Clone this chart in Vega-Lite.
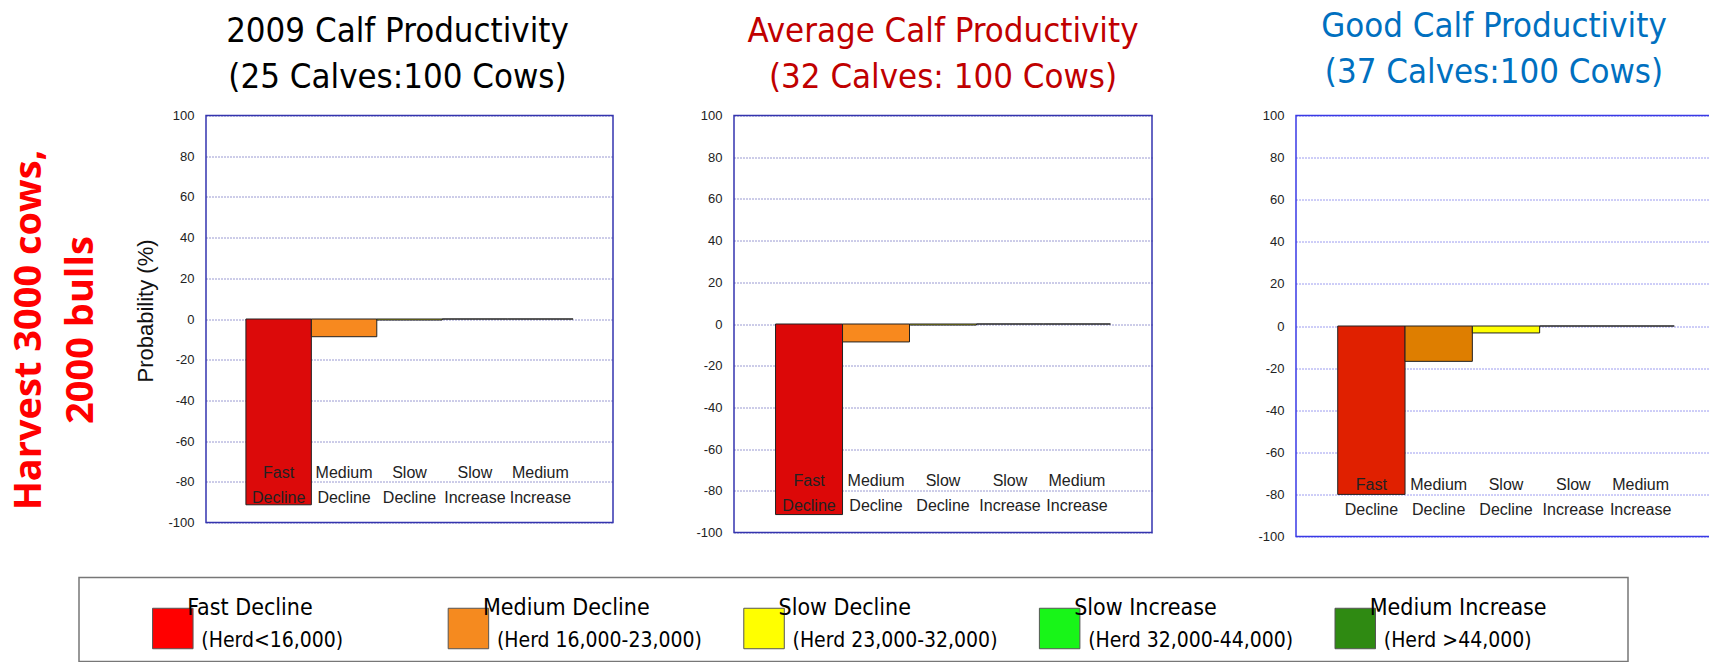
{
  "$schema": "https://vega.github.io/schema/vega-lite/v6.json",
  "background": "white",
  "padding": {"left": 11, "top": 7.5, "right": 0, "bottom": 0},
  "config": {"view": {"stroke": null}, "font": "Liberation Sans"},
  "datasets": {
    "bars": [
      {"panel": "2009", "category": "Fast Decline", "value": -91.3},
      {"panel": "2009", "category": "Medium Decline", "value": -8.7},
      {"panel": "2009", "category": "Slow Decline", "value": -0.5},
      {"panel": "2009", "category": "Slow Increase", "value": 0},
      {"panel": "2009", "category": "Medium Increase", "value": 0},
      {"panel": "Average", "category": "Fast Decline", "value": -91.4},
      {"panel": "Average", "category": "Medium Decline", "value": -8.6},
      {"panel": "Average", "category": "Slow Decline", "value": -0.5},
      {"panel": "Average", "category": "Slow Increase", "value": 0},
      {"panel": "Average", "category": "Medium Increase", "value": 0},
      {"panel": "Good", "category": "Fast Decline", "value": -80},
      {"panel": "Good", "category": "Medium Decline", "value": -16.8},
      {"panel": "Good", "category": "Slow Decline", "value": -3.3},
      {"panel": "Good", "category": "Slow Increase", "value": 0},
      {"panel": "Good", "category": "Medium Increase", "value": 0}
    ],
    "legend": [
      {"category": "Fast Decline", "herd": "(Herd<16,000)"},
      {"category": "Medium Decline", "herd": "(Herd 16,000-23,000)"},
      {"category": "Slow Decline", "herd": "(Herd 23,000-32,000)"},
      {"category": "Slow Increase", "herd": "(Herd 32,000-44,000)"},
      {"category": "Medium Increase", "herd": "(Herd >44,000)"}
    ]
  },
  "title": {
    "text": ["Harvest 3000 cows,", "2000 bulls"],
    "orient": "left",
    "anchor": "middle",
    "font": "Open Sans",
    "fontSize": 38,
    "fontWeight": "bold",
    "color": "#ff0000",
    "lineHeight": 52,
    "offset": -23,
    "dx": 5
  },
  "spacing": 32,
  "resolve": {"scale": {"color": "independent"}},
  "vconcat": [
    {
      "spacing": 30,
      "resolve": {"scale": {"color": "independent"}},
      "hconcat": [
        {
          "width": 16,
          "height": 10,
          "data": {"values": [{"blank": ""}]},
          "mark": {"type": "text"},
          "encoding": {"text": {"field": "blank"}}
        },
        {
          "width": 407,
          "height": 407,
          "title": {"text": ["2009 Calf Productivity", "(25 Calves:100 Cows)"], "color": "#000000", "font": "DejaVu Sans Condensed, Liberation Sans, sans-serif", "fontSize": 34.5, "fontWeight": "normal", "lineHeight": 46, "offset": 14, "frame": "group", "anchor": "middle", "dx": -12},
          "view": {"stroke": "#3535b0", "strokeWidth": 1.5},
          "data": {"name": "bars"},
          "transform": [{"filter": "datum.panel == '2009'"}],
          "encoding": {
            "x": {"field": "category", "type": "nominal", "sort": null, "scale": {"paddingInner": 0, "paddingOuter": 0.61}, "axis": null}
          },
          "layer": [
            {
              "mark": {"type": "bar", "stroke": "#222222", "strokeWidth": 1, "opacity": 1},
              "encoding": {
                "y": {"field": "value", "type": "quantitative", "scale": {"domain": [-100, 100]},
                  "axis": {"values": [-100, -80, -60, -40, -20, 0, 20, 40, 60, 80, 100], "labelExpr": "'' + datum.value", "grid": true, "gridColor": "#3434a4", "gridDash": [1, 2], "gridWidth": 1, "gridOpacity": 1, "ticks": false, "domain": false, "labelPadding": 12, "labelFontSize": 13, "labelColor": "#222222", "title": "Probability (%)", "titleFontSize": 22, "titleFontWeight": "normal", "titleColor": "#111111", "titleX": -61, "titleY": 195, "titleAngle": 270, "titleAlign": "center", "titleBaseline": "middle", "minExtent": 80}},
                "color": {"field": "category", "type": "nominal", "scale": {"domain": ["Fast Decline", "Medium Decline", "Slow Decline", "Slow Increase", "Medium Increase"], "range": ["#dc0a0a", "#f7891f", "#ffff00", "#22ee22", "#2e8b14"]}, "legend": null}
              }
            },
            {"mark": {"type": "rule", "color": "#444444", "strokeWidth": 1.5}, "encoding": {"y": {"datum": 0}}},
            {
              "mark": {"type": "text", "lineBreak": " ", "fontSize": 16, "color": "#222222", "lineHeight": 25, "baseline": "middle"},
              "encoding": {"y": {"datum": -75.5}, "text": {"field": "category"}}
            }
          ]
        },
        {
          "width": 418,
          "height": 417,
          "title": {"text": ["Average Calf Productivity", "(32 Calves: 100 Cows)"], "color": "#c00000", "font": "DejaVu Sans Condensed, Liberation Sans, sans-serif", "fontSize": 34.5, "fontWeight": "normal", "lineHeight": 46, "offset": 14, "frame": "group", "anchor": "middle"},
          "view": {"stroke": "#3535b0", "strokeWidth": 1.5},
          "data": {"name": "bars"},
          "transform": [{"filter": "datum.panel == 'Average'"}],
          "encoding": {
            "x": {"field": "category", "type": "nominal", "sort": null, "scale": {"paddingInner": 0, "paddingOuter": 0.62}, "axis": null}
          },
          "layer": [
            {
              "mark": {"type": "bar", "stroke": "#222222", "strokeWidth": 1, "opacity": 1},
              "encoding": {
                "y": {"field": "value", "type": "quantitative", "scale": {"domain": [-100, 100]},
                  "axis": {"values": [-100, -80, -60, -40, -20, 0, 20, 40, 60, 80, 100], "labelExpr": "'' + datum.value", "grid": true, "gridColor": "#3434a4", "gridDash": [1, 2], "gridWidth": 1, "gridOpacity": 1, "ticks": false, "domain": false, "labelPadding": 12, "labelFontSize": 13, "labelColor": "#222222", "title": null, "minExtent": 89}},
                "color": {"field": "category", "type": "nominal", "scale": {"domain": ["Fast Decline", "Medium Decline", "Slow Decline", "Slow Increase", "Medium Increase"], "range": ["#dc0808", "#f8891e", "#ffff00", "#22ee22", "#2e8b14"]}, "legend": null}
              }
            },
            {"mark": {"type": "rule", "color": "#444444", "strokeWidth": 1.5}, "encoding": {"y": {"datum": 0}}},
            {
              "mark": {"type": "text", "lineBreak": " ", "fontSize": 16, "color": "#222222", "lineHeight": 25, "baseline": "middle"},
              "encoding": {"y": {"datum": -75.5}, "text": {"field": "category"}}
            }
          ]
        },
        {
          "width": 420,
          "height": 421,
          "title": {"text": ["Good Calf Productivity", "(37 Calves:100 Cows)"], "color": "#0070c0", "font": "DejaVu Sans Condensed, Liberation Sans, sans-serif", "fontSize": 34.5, "fontWeight": "normal", "lineHeight": 46, "offset": 19.5, "frame": "group", "anchor": "middle", "dx": -12},
          "view": {"stroke": "#3a3ae6", "strokeWidth": 1.5},
          "data": {"name": "bars"},
          "transform": [{"filter": "datum.panel == 'Good'"}],
          "encoding": {
            "x": {"field": "category", "type": "nominal", "sort": null, "scale": {"paddingInner": 0, "paddingOuter": 0.62}, "axis": null}
          },
          "layer": [
            {
              "mark": {"type": "bar", "stroke": "#222222", "strokeWidth": 1, "opacity": 1},
              "encoding": {
                "y": {"field": "value", "type": "quantitative", "scale": {"domain": [-100, 100]},
                  "axis": {"values": [-100, -80, -60, -40, -20, 0, 20, 40, 60, 80, 100], "labelExpr": "'' + datum.value", "grid": true, "gridColor": "#3a3ae0", "gridDash": [1, 2], "gridWidth": 1, "gridOpacity": 1, "ticks": false, "domain": false, "labelPadding": 12, "labelFontSize": 13, "labelColor": "#222222", "title": null, "minExtent": 112}},
                "color": {"field": "category", "type": "nominal", "scale": {"domain": ["Fast Decline", "Medium Decline", "Slow Decline", "Slow Increase", "Medium Increase"], "range": ["#e02000", "#de7e00", "#ffff00", "#22ee22", "#2e8b14"]}, "legend": null}
              }
            },
            {"mark": {"type": "rule", "color": "#222222", "strokeWidth": 1.5}, "encoding": {"y": {"datum": 0}}},
            {
              "mark": {"type": "text", "lineBreak": " ", "fontSize": 16, "color": "#222222", "lineHeight": 25, "baseline": "middle"},
              "encoding": {"y": {"datum": -75.5}, "text": {"field": "category"}}
            }
          ]
        }
      ]
    },
    {
      "width": 1549,
      "height": 84,
      "view": {"stroke": "#777777", "strokeWidth": 1.5},
      "data": {"name": "legend"},
      "encoding": {
        "x": {"field": "category", "type": "nominal", "sort": null, "scale": {"type": "point", "padding": 0.62, "align": 0.2}, "axis": null}
      },
      "layer": [
        {
          "mark": {"type": "point", "shape": "square", "filled": true, "size": 1640, "stroke": "#555555", "strokeWidth": 1, "xOffset": 20.5, "yOffset": 9, "opacity": 1},
          "encoding": {"color": {"field": "category", "type": "nominal", "scale": {"domain": ["Fast Decline", "Medium Decline", "Slow Decline", "Slow Increase", "Medium Increase"], "range": ["#ff0000", "#f58a1f", "#ffff00", "#18f518", "#2f8a12"]}, "legend": null}}
        },
        {
          "mark": {"type": "text", "align": "left", "baseline": "alphabetic", "dx": 35, "dy": -5, "fontSize": 23, "font": "DejaVu Sans Condensed, Liberation Sans, sans-serif", "color": "#000000"},
          "encoding": {"text": {"field": "category"}}
        },
        {
          "mark": {"type": "text", "align": "left", "baseline": "alphabetic", "dx": 49, "dy": 27, "fontSize": 21, "font": "DejaVu Sans Condensed, Liberation Sans, sans-serif", "color": "#000000"},
          "encoding": {"text": {"field": "herd"}}
        }
      ]
    }
  ]
}
